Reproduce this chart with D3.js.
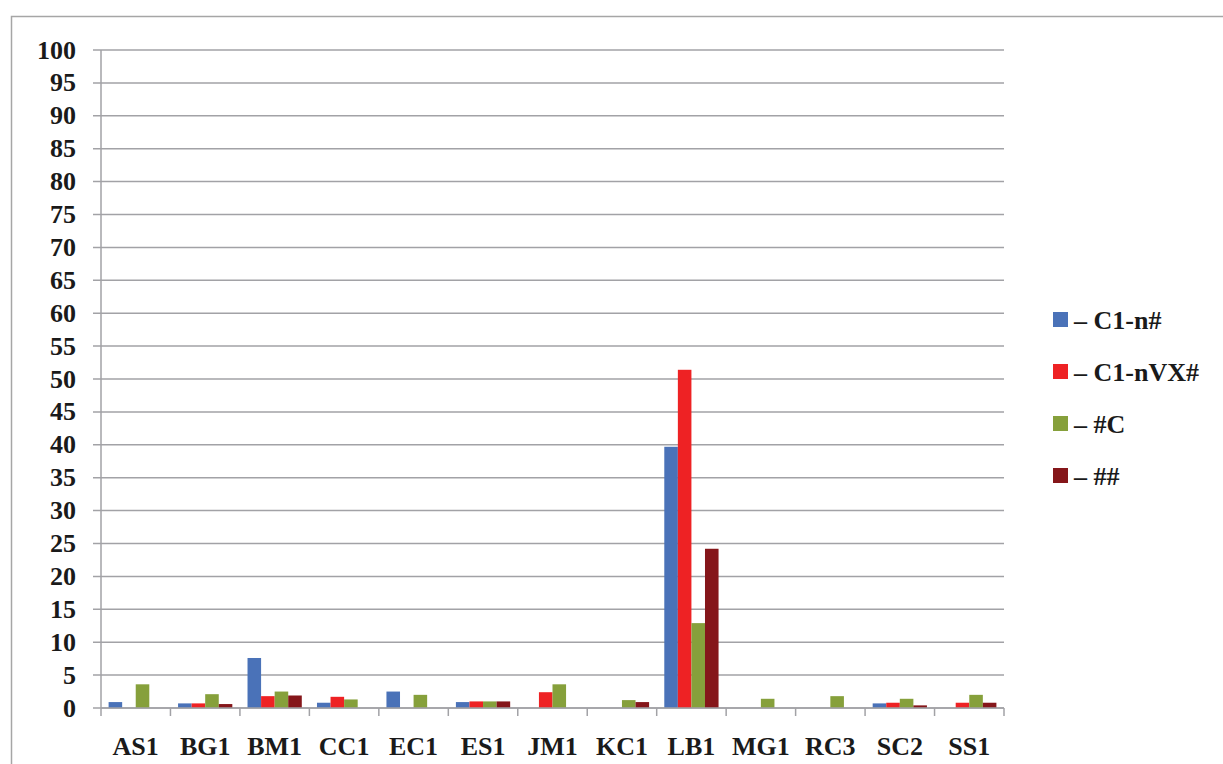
<!DOCTYPE html>
<html>
<head>
<meta charset="utf-8">
<script src="https://cdn.jsdelivr.net/npm/d3@7"></script>
<style>
  body { margin: 0; background: #fff; }
  text { font-family: "Liberation Serif", serif; font-weight: bold; fill: #1a1a1a; }
</style>
</head>
<body>
<script>
  var categories = ["AS1", "BG1", "BM1", "CC1", "EC1", "ES1", "JM1", "KC1", "LB1", "MG1", "RC3", "SC2", "SS1"];
  var seriesNames = ["– C1-n#", "– C1-nVX#", "– #C", "– ##"];
  var seriesColors = ["#4a72b8", "#ee2224", "#86a03b", "#85161a"];
  var c1n   = [0.9, 0.7, 7.6, 0.8, 2.5, 0.9, 0,   0,   39.7, 0,   0,   0.7, 0];
  var c1nvx = [0,   0.7, 1.8, 1.7, 0,   1.0, 2.4, 0,   51.4, 0,   0,   0.8, 0.8];
  var hc    = [3.6, 2.1, 2.5, 1.3, 2.0, 1.0, 3.6, 1.2, 12.9, 1.4, 1.8, 1.4, 2.0];
  var hh    = [0,   0.6, 1.9, 0,   0,   1.0, 0,   0.9, 24.2, 0,   0,   0.4, 0.8];
  var yTicks = d3.range(0, 101, 5);

  var series = [c1n, c1nvx, hc, hh];

  var svgWidth = 1223, svgHeight = 764;
  var plotLeft = 101, plotRight = 1004, plotTop = 50, plotBottom = 708;

  var svg = d3.select('body').append('svg')
    .attr('width', svgWidth)
    .attr('height', svgHeight);

  // outer frame
  svg.append('rect')
    .attr('x', 11.5).attr('y', 16.5)
    .attr('width', 1300).attr('height', 900)
    .attr('fill', 'none')
    .attr('stroke', '#a6a6a6')
    .attr('stroke-width', 1.5);

  var x = d3.scaleBand().domain(categories).range([plotLeft, plotRight]);
  var xInner = d3.scaleBand().domain(d3.range(4)).range([0, x.bandwidth()]).paddingOuter(0.56);
  var y = d3.scaleLinear().domain([0, 100]).range([plotBottom, plotTop]);

  // gridlines + y ticks
  svg.append('g').selectAll('line')
    .data(yTicks)
    .enter()
    .append('line')
      .attr('x1', plotLeft - 8)
      .attr('x2', plotRight)
      .attr('y1', function(d) { return y(d); })
      .attr('y2', function(d) { return y(d); })
      .attr('stroke', '#a2a2a6')
      .attr('stroke-width', 1.5);

  svg.append('g').selectAll('text')
    .data(yTicks)
    .enter()
    .append('text')
      .attr('x', plotLeft - 25)
      .attr('y', function(d) { return y(d); })
      .attr('dy', '0.33em')
      .attr('text-anchor', 'end')
      .attr('font-size', 26)
      .text(function(d) { return d; });

  // y axis line
  svg.append('line')
    .attr('x1', plotLeft).attr('x2', plotLeft)
    .attr('y1', plotTop).attr('y2', plotBottom)
    .attr('stroke', '#a2a2a6').attr('stroke-width', 1.5);

  // bars
  series.forEach(function(vals, si) {
    svg.append('g').selectAll('rect')
      .data(vals)
      .enter()
      .append('rect')
        .attr('x', function(d, i) { return x(categories[i]) + xInner(si); })
        .attr('width', xInner.bandwidth())
        .attr('y', function(d) { return y(d); })
        .attr('height', function(d) { return plotBottom - y(d); })
        .attr('fill', seriesColors[si])
        .attr('visibility', function(d) { return d > 0 ? 'visible' : 'hidden'; });
  });

  // x axis line and ticks
  svg.append('line')
    .attr('x1', plotLeft).attr('x2', plotRight)
    .attr('y1', plotBottom).attr('y2', plotBottom)
    .attr('stroke', '#a2a2a6').attr('stroke-width', 1.5);

  var bounds = categories.map(function(c) { return x(c); }).concat([plotRight]);
  svg.append('g').selectAll('line')
    .data(bounds)
    .enter()
    .append('line')
      .attr('x1', function(d) { return d; })
      .attr('x2', function(d) { return d; })
      .attr('y1', plotBottom)
      .attr('y2', plotBottom + 8)
      .attr('stroke', '#a2a2a6')
      .attr('stroke-width', 1.5);

  svg.append('g').selectAll('text')
    .data(categories)
    .enter()
    .append('text')
      .attr('x', function(d) { return x(d) + x.bandwidth() / 2; })
      .attr('y', 755)
      .attr('text-anchor', 'middle')
      .attr('font-size', 26)
      .text(function(d) { return d; });

  // legend
  var legend = svg.append('g').selectAll('g')
    .data(seriesNames)
    .enter()
    .append('g')
      .attr('transform', function(d, i) { return 'translate(1053,' + (320 + i * 52) + ')'; });

  legend.append('rect')
    .attr('x', 0).attr('y', -8)
    .attr('width', 15).attr('height', 15)
    .attr('fill', function(d, i) { return seriesColors[i]; });

  legend.append('text')
    .attr('x', 21)
    .attr('y', 0)
    .attr('dy', '0.33em')
    .attr('font-size', 26)
    .text(function(d) { return d; });
</script>
</body>
</html>
